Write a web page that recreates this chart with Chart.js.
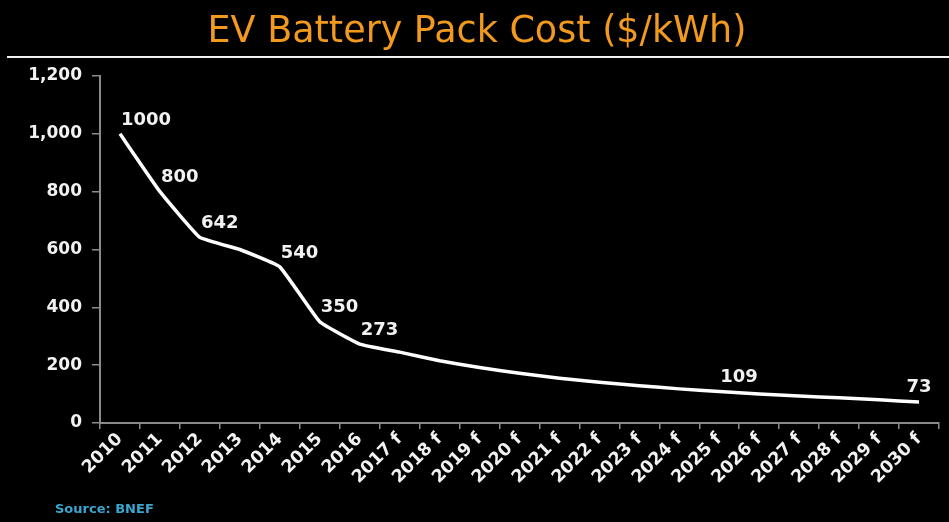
<!DOCTYPE html>
<html>
<head>
<meta charset="utf-8">
<script src="https://cdn.jsdelivr.net/npm/chart.js@4.4.1/dist/chart.umd.min.js"></script>
<style>
  html, body { margin: 0; padding: 0; background: #000; }
  #wrap { width: 949px; height: 522px; position: relative; }
</style>
</head>
<body>
<div id="wrap"><canvas id="myChart" width="949" height="522"></canvas></div>
<script>
// years (f = forecast)
var years = ['2010','2011','2012','2013','2014','2015','2016','2017 f','2018 f','2019 f','2020 f',
             '2021 f','2022 f','2023 f','2024 f','2025 f','2026 f','2027 f','2028 f','2029 f','2030 f'];
// pack cost in $/kWh
var packCost = [1000, 800, 642, 600, 540, 350, 273, 245, 215, 192, 172,
                155, 141, 129, 118, 109, 100, 93, 87, 80, 73];
// which points get a value label
var labelled = [0, 1, 2, 4, 5, 6, 15, 20];
var yTicks = { min: 0, max: 1200, step: 200 };

var titleText = 'EV Battery Pack Cost ($/kWh)';
var sourceText = 'Source: BNEF';

var decorations = {
  id: 'decorations',
  afterDraw: function (chart) {
    var ctx = chart.ctx;
    ctx.save();
    // title
    ctx.fillStyle = '#f29a1e';
    ctx.font = '36.5px "DejaVu Sans"';
    ctx.textAlign = 'center';
    ctx.textBaseline = 'alphabetic';
    ctx.fillText(titleText, 477, 42);
    // rule under title
    ctx.strokeStyle = '#f2f2f2';
    ctx.lineWidth = 2;
    ctx.beginPath();
    ctx.moveTo(7, 57);
    ctx.lineTo(949, 57);
    ctx.stroke();
    // source
    ctx.fillStyle = '#3aa6cf';
    ctx.font = 'bold 13px "DejaVu Sans"';
    ctx.textAlign = 'left';
    ctx.fillText(sourceText, 55, 513);
    // value labels
    var meta = chart.getDatasetMeta(0);
    ctx.fillStyle = '#f2f2f2';
    ctx.font = 'bold 18px "DejaVu Sans"';
    ctx.textBaseline = 'bottom';
    labelled.forEach(function (i) {
      var pt = meta.data[i];
      // last label sits centred over its point so it stays inside the plot
      if (i === packCost.length - 1) {
        ctx.textAlign = 'center';
        ctx.fillText(String(packCost[i]), pt.x, pt.y - 6);
      } else {
        ctx.textAlign = 'left';
        ctx.fillText(String(packCost[i]), pt.x + 1, pt.y - 5);
      }
    });
    ctx.restore();
  }
};

var config = {
  type: 'line',
  data: {
    labels: years,
    datasets: [{
      data: packCost,
      borderColor: '#ffffff',
      borderWidth: 3.5,
      pointRadius: 0,
      tension: 0.1,
      fill: false
    }]
  },
  options: {
    responsive: false,
    animation: false,
    layout: { padding: { top: 76, right: 10, left: 0, bottom: 0 } },
    plugins: {
      legend: { display: false },
      tooltip: { enabled: false }
    },
    scales: {
      x: {
        offset: true,
        afterFit: function (s) { s.height = 99; },
        border: { color: '#8a8a8a', width: 2 },
        grid: { offset: true, drawOnChartArea: false, color: '#8a8a8a', tickLength: 6, lineWidth: 1.5 },
        ticks: {
          color: '#f2f2f2',
          font: { family: '"DejaVu Sans"', weight: 'bold', size: 17.5 },
          minRotation: 45, maxRotation: 45,
          autoSkip: false,
          padding: 0
        }
      },
      y: {
        min: yTicks.min, max: yTicks.max,
        afterFit: function (s) { s.width = 100; },
        border: { color: '#8a8a8a', width: 2 },
        grid: { drawOnChartArea: false, color: '#8a8a8a', tickLength: 8, lineWidth: 1.5 },
        ticks: {
          stepSize: yTicks.step,
          color: '#f2f2f2',
          font: { family: '"DejaVu Sans"', weight: 'bold', size: 17 },
          padding: 10
        }
      }
    }
  },
  plugins: [decorations]
};

var ctx = document.getElementById('myChart').getContext('2d');
window.myLine = new Chart(ctx, config);
</script>
</body>
</html>
